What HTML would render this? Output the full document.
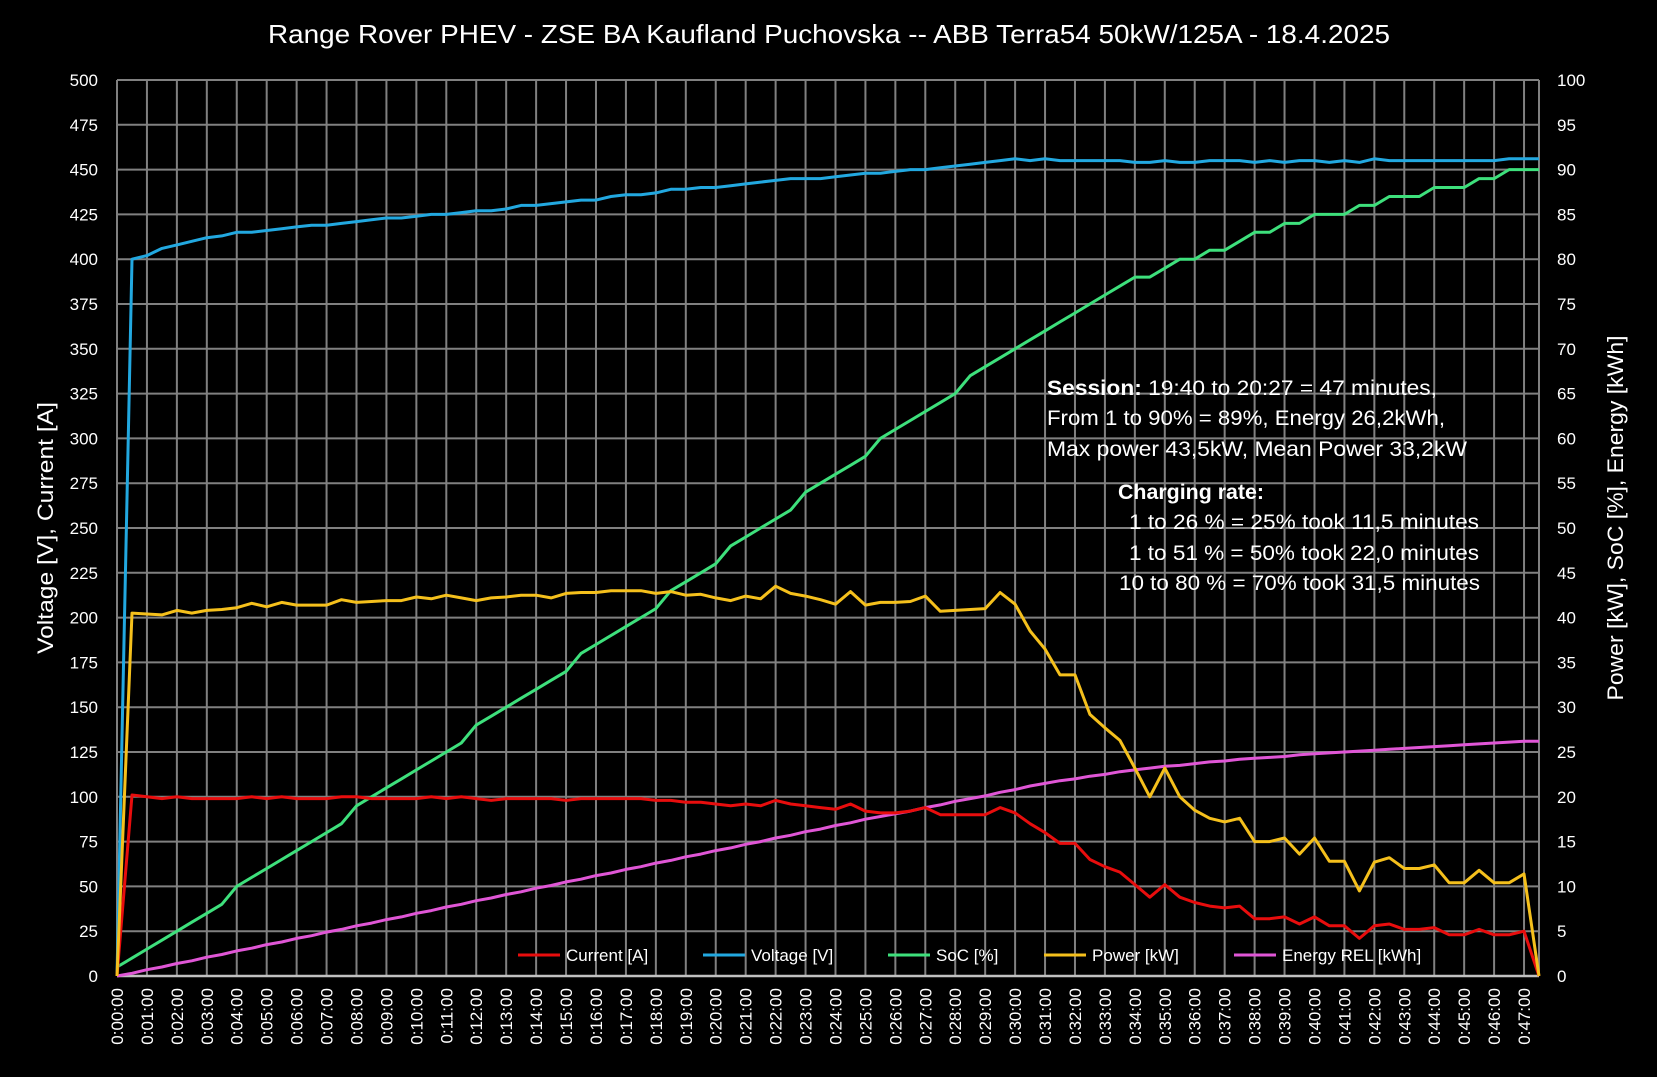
<!DOCTYPE html>
<html><head><meta charset="utf-8"><style>
html,body{margin:0;padding:0;background:#000;}
svg{display:block;font-family:"Liberation Sans",sans-serif;}
</style></head><body>
<svg id="chart" width="1657" height="1077" viewBox="0 0 1657 1077" xmlns="http://www.w3.org/2000/svg">
<rect width="1657" height="1077" fill="#000"/>
<text x="829" y="43" fill="#fff" font-size="26" text-anchor="middle" textLength="1122" lengthAdjust="spacingAndGlyphs">Range Rover PHEV - ZSE BA Kaufland Puchovska -- ABB Terra54  50kW/125A - 18.4.2025</text>
<g id="grid"></g>
<g id="axes"></g>
<g id="series"></g>
<text transform="translate(53,528) rotate(-90)" fill="#fff" font-size="22" text-anchor="middle" textLength="252" lengthAdjust="spacingAndGlyphs">Voltage [V], Current [A]</text>
<text transform="translate(1623,518) rotate(-90)" fill="#fff" font-size="22" text-anchor="middle" textLength="365" lengthAdjust="spacingAndGlyphs">Power [kW], SoC [%], Energy [kWh]</text>
<g fill="#fff" font-size="21">
<text x="1047" y="395" textLength="390" lengthAdjust="spacingAndGlyphs"><tspan font-weight="bold">Session:</tspan>   19:40 to 20:27 = 47 minutes,</text>
<text x="1047" y="425" textLength="398" lengthAdjust="spacingAndGlyphs">From 1 to 90% = 89%, Energy 26,2kWh,</text>
<text x="1047" y="456" textLength="420" lengthAdjust="spacingAndGlyphs">Max power 43,5kW, Mean Power 33,2kW</text>
<text x="1118" y="499" font-weight="bold" textLength="146" lengthAdjust="spacingAndGlyphs">Charging rate:</text>
<text x="1479" y="529" text-anchor="end" textLength="350" lengthAdjust="spacingAndGlyphs">1 to 26 % = 25% took 11,5 minutes</text>
<text x="1479" y="560" text-anchor="end" textLength="350" lengthAdjust="spacingAndGlyphs">1 to 51 % = 50% took 22,0 minutes</text>
<text x="1480" y="590" text-anchor="end" textLength="361" lengthAdjust="spacingAndGlyphs">10 to 80 % = 70% took 31,5 minutes</text>
</g>
<g id="legend"></g>
</svg>
<script>
const voltage=[0,400,402,406,408,410,412,413,415,415,416,417,418,419,419,420,421,422,423,423,424,425,425,426,427,427,428,430,430,431,432,433,433,435,436,436,437,439,439,440,440,441,442,443,444,445,445,445,446,447,448,448,449,450,450,451,452,453,454,455,456,455,456,455,455,455,455,455,454,454,455,454,454,455,455,455,454,455,454,455,455,454,455,454,456,455,455,455,455,455,455,455,455,456,456,456];
const current=[0,101,100,99,100,99,99,99,99,100,99,100,99,99,99,100,100,99,99,99,99,100,99,100,99,98,99,99,99,99,98,99,99,99,99,99,98,98,97,97,96,95,96,95,98,96,95,94,93,96,92,91,91,92,94,90,90,90,90,94,91,85,80,74,74,65,61,58,51,44,51,44,41,39,38,39,32,32,33,29,33,28,28,21,28,29,26,26,27,23,23,26,23,23,25,0];
const soc=[1,2,3,4,5,6,7,8,10,11,12,13,14,15,16,17,19,20,21,22,23,24,25,26,28,29,30,31,32,33,34,36,37,38,39,40,41,43,44,45,46,48,49,50,51,52,54,55,56,57,58,60,61,62,63,64,65,67,68,69,70,71,72,73,74,75,76,77,78,78,79,80,80,81,81,82,83,83,84,84,85,85,85,86,86,87,87,87,88,88,88,89,89,90,90,90];
const power=[0,40.5,40.4,40.3,40.8,40.5,40.8,40.9,41.1,41.6,41.2,41.7,41.4,41.4,41.4,42,41.7,41.8,41.9,41.9,42.3,42.1,42.5,42.2,41.9,42.2,42.3,42.5,42.5,42.2,42.7,42.8,42.8,43,43,43,42.7,42.9,42.5,42.6,42.2,41.9,42.4,42.1,43.5,42.7,42.4,42,41.5,42.9,41.4,41.7,41.7,41.8,42.4,40.7,40.8,40.9,41,42.8,41.5,38.5,36.5,33.6,33.6,29.2,27.7,26.3,23.2,20,23.2,20,18.5,17.6,17.2,17.6,15,15,15.4,13.6,15.4,12.8,12.8,9.5,12.7,13.2,12,12,12.4,10.4,10.4,11.8,10.4,10.4,11.4,0];
const energy=[0,0.3,0.7,1.0,1.4,1.7,2.1,2.4,2.8,3.1,3.5,3.8,4.2,4.5,4.9,5.2,5.6,5.9,6.3,6.6,7.0,7.3,7.7,8.0,8.4,8.7,9.1,9.4,9.8,10.1,10.5,10.8,11.2,11.5,11.9,12.2,12.6,12.9,13.3,13.6,14.0,14.3,14.7,15.0,15.4,15.7,16.1,16.4,16.8,17.1,17.5,17.8,18.1,18.4,18.8,19.1,19.5,19.8,20.1,20.5,20.8,21.2,21.5,21.8,22.0,22.3,22.5,22.8,23.0,23.2,23.4,23.5,23.7,23.9,24.0,24.2,24.3,24.4,24.5,24.7,24.8,24.9,25.0,25.1,25.2,25.3,25.4,25.5,25.6,25.7,25.8,25.9,26.0,26.1,26.2,26.2];
const leftTicks=[0,25,50,75,100,125,150,175,200,225,250,275,300,325,350,375,400,425,450,475,500];
const rightTicks=[0,5,10,15,20,25,30,35,40,45,50,55,60,65,70,75,80,85,90,95,100];
const timeLabels=["0:00:00","0:01:00","0:02:00","0:03:00","0:04:00","0:05:00","0:06:00","0:07:00","0:08:00","0:09:00","0:10:00","0:11:00","0:12:00","0:13:00","0:14:00","0:15:00","0:16:00","0:17:00","0:18:00","0:19:00","0:20:00","0:21:00","0:22:00","0:23:00","0:24:00","0:25:00","0:26:00","0:27:00","0:28:00","0:29:00","0:30:00","0:31:00","0:32:00","0:33:00","0:34:00","0:35:00","0:36:00","0:37:00","0:38:00","0:39:00","0:40:00","0:41:00","0:42:00","0:43:00","0:44:00","0:45:00","0:46:00","0:47:00"];

const NS="http://www.w3.org/2000/svg";
const L=117,R=1539,T=80,B=976;
const nPts=voltage.length;
const step=(R-L)/(nPts-1);
const x=i=>L+i*step;
const yL=v=>B-(v/500)*(B-T);
const yR=v=>B-(v/100)*(B-T);
function mk(tag,attrs,parent){const e=document.createElementNS(NS,tag);for(const k in attrs)e.setAttribute(k,attrs[k]);parent.appendChild(e);return e;}
const grid=document.getElementById('grid'),axes=document.getElementById('axes'),ser=document.getElementById('series'),leg=document.getElementById('legend');

leftTicks.forEach((v,i)=>{
  const y=yL(v);
  if(v>0){const g=mk('line',{x1:L,x2:R,y1:y,y2:y,stroke:'#808080','stroke-width':2},grid);
  
  }
  const t=mk('text',{x:98,y:y+6,fill:'#fff','font-size':17,'text-anchor':'end'},axes);t.textContent=v;
  
  
});
rightTicks.forEach(v=>{
  const t=mk('text',{x:1557,y:yR(v)+6,fill:'#fff','font-size':17,'text-anchor':'start'},axes);t.textContent=v;
  
  
});
timeLabels.forEach((lab,m)=>{
  const xx=x(m*2);
  const g=mk('line',{x1:xx,x2:xx,y1:T,y2:B,stroke:'#808080','stroke-width':2},grid);
  
  
  const t=mk('text',{transform:`translate(${xx+6},988) rotate(-90)`,fill:'#fff','font-size':17,'text-anchor':'end'},axes);t.textContent=lab;
  
  
});
const rl=mk('line',{x1:R,x2:R,y1:T,y2:B,stroke:'#808080','stroke-width':2},grid);


const tl=mk('line',{x1:L,x2:R,y1:T,y2:T,stroke:'#808080','stroke-width':2},grid);


const xa=mk('line',{x1:L,x2:R,y1:B,y2:B,stroke:'#c0c0c0','stroke-width':2.5},axes);



function series(arr,yf,color,name){
  const p=arr.map((v,i)=>(i?'L':'M')+x(i).toFixed(1)+','+yf(v).toFixed(1)).join('');
  const e=mk('path',{d:p,fill:'none',stroke:color,'stroke-width':3,'stroke-linejoin':'round'},ser);
  
  
}
series(energy,yR,'#e056d6','energy-line');
series(soc,yR,'#3ee07c','soc-line');
series(voltage,yL,'#22a8e0','voltage-line');
series(current,yL,'#e80d0d','current-line');
series(power,yR,'#f5c01c','power-line');

const legendItems=[["Current [A]","#e80d0d",518],["Voltage [V]","#22a8e0",703],["SoC [%]","#3ee07c",888],["Power [kW]","#f5c01c",1044],["Energy REL [kWh]","#e056d6",1234]];
legendItems.forEach(([lab,c,lx])=>{
  const ln=mk('line',{x1:lx,x2:lx+42,y1:955,y2:955,stroke:c,'stroke-width':3},leg);
  
  
  const t=mk('text',{x:lx+48,y:961,fill:'#fff','font-size':17},leg);t.textContent=lab;
  
  
});
</script>
</body></html>
